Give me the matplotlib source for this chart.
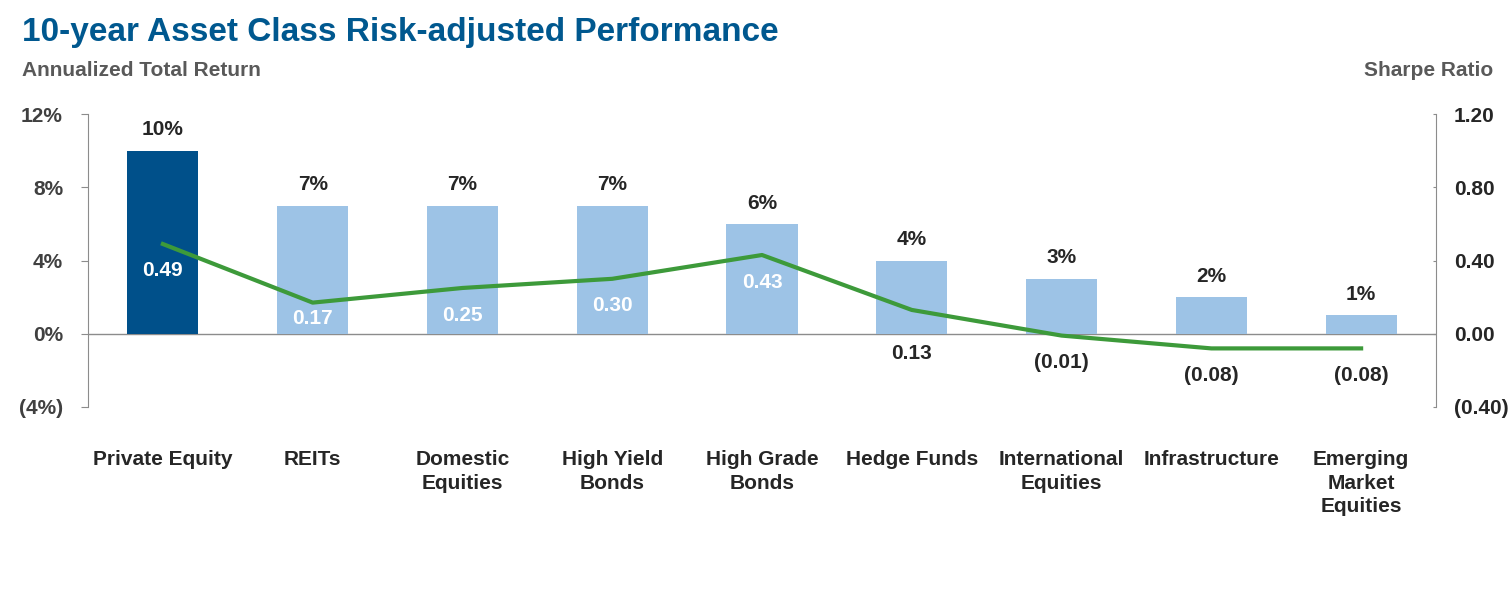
import numpy as np
import matplotlib.pyplot as plt
from matplotlib.ticker import FuncFormatter

plt.rcParams['font.family'] = ['Liberation Sans', 'DejaVu Sans']
plt.rcParams['font.weight'] = 'bold'

categories = ['Private Equity', 'REITs', 'Domestic\nEquities', 'High Yield\nBonds',
              'High Grade\nBonds', 'Hedge Funds', 'International\nEquities',
              'Infrastructure', 'Emerging\nMarket\nEquities']
returns = [10, 7, 7, 7, 6, 4, 3, 2, 1]
sharpe = [0.49, 0.17, 0.25, 0.30, 0.43, 0.13, -0.01, -0.08, -0.08]

# label placement (pixels relative to the line point), white = drawn inside bar
label_dy = [-26, -16, -28, -27, -27, -44, -27, -27, -27]
label_white = [True, True, True, True, True, False, False, False, False]

dark_blue = '#00508a'
light_blue = '#9dc3e6'
green = '#3d9a3a'
grey_txt = '#404040'
fs = 15

fig = plt.figure(figsize=(15.1, 5.93), dpi=100)
ax = fig.add_axes([88/1510, 1-407/593, (1436-88)/1510, (407-114)/593])
ax2 = ax.twinx()

x = np.arange(len(categories))
colors = [dark_blue] + [light_blue]*(len(categories)-1)
bars = ax.bar(x, returns, width=0.475, color=colors, zorder=2)
ax.set_xlim(-0.5, 8.5)
ax.set_ylim(-4, 12)
ax.set_yticks([-4, 0, 4, 8, 12])
ax.yaxis.set_major_formatter(FuncFormatter(lambda v, p: f'({abs(v):.0f}%)' if v < 0 else f'{v:.0f}%'))
ax.axhline(0, color='#8c8c8c', lw=1, zorder=1)

for b, r in zip(bars, returns):
    ax.annotate(f'{r}%', (b.get_x()+b.get_width()/2, r), xytext=(0, 15),
                textcoords='offset points', ha='center', va='center',
                fontsize=fs, color='#262626', fontweight='bold')

ax2.plot(x, sharpe, color=green, lw=3, zorder=3)
ax2.set_ylim(-0.4, 1.2)
ax2.set_yticks([-0.4, 0, 0.4, 0.8, 1.2])
ax2.yaxis.set_major_formatter(FuncFormatter(lambda v, p: f'({abs(v):.2f})' if v < -1e-9 else f'{abs(v):.2f}'))

for xi, s, dy, w in zip(x, sharpe, label_dy, label_white):
    txt = f'({abs(s):.2f})' if s < 0 else f'{s:.2f}'
    ax2.annotate(txt, (xi, s), xytext=(0, dy*0.72), textcoords='offset points',
                 ha='center', va='center', fontsize=fs,
                 color='white' if w else '#262626', fontweight='bold')

for a in (ax, ax2):
    a.spines['top'].set_visible(False)
    a.spines['bottom'].set_visible(False)
    a.spines['left'].set_color('#8c8c8c')
    a.spines['right'].set_color('#8c8c8c')
ax2.spines['left'].set_visible(False)
ax.spines['right'].set_visible(False)

ax.tick_params(axis='y', direction='out', length=5, color='#8c8c8c', pad=13,
               labelsize=fs, labelcolor=grey_txt)
ax2.tick_params(axis='y', direction='in', length=2.5, color='#8c8c8c', pad=13,
                labelsize=fs, labelcolor='#262626')
ax.set_xticks(x)
ax.set_xticklabels(categories, fontsize=fs, color='#262626', fontweight='bold', linespacing=1.3)
ax.tick_params(axis='x', length=0, pad=31)

fig.text(22/1510, 1-32/593, '10-year Asset Class Risk-adjusted Performance', fontsize=24,
         color='#00588f', fontweight='bold', va='center', ha='left')
fig.text(22/1510, 1-71/593, 'Annualized Total Return', fontsize=fs, color='#595959',
         fontweight='bold', va='center', ha='left')
fig.text(1493/1510, 1-71/593, 'Sharpe Ratio', fontsize=fs, color='#595959',
         fontweight='bold', va='center', ha='right')

fig.savefig('out.png', dpi=100)
